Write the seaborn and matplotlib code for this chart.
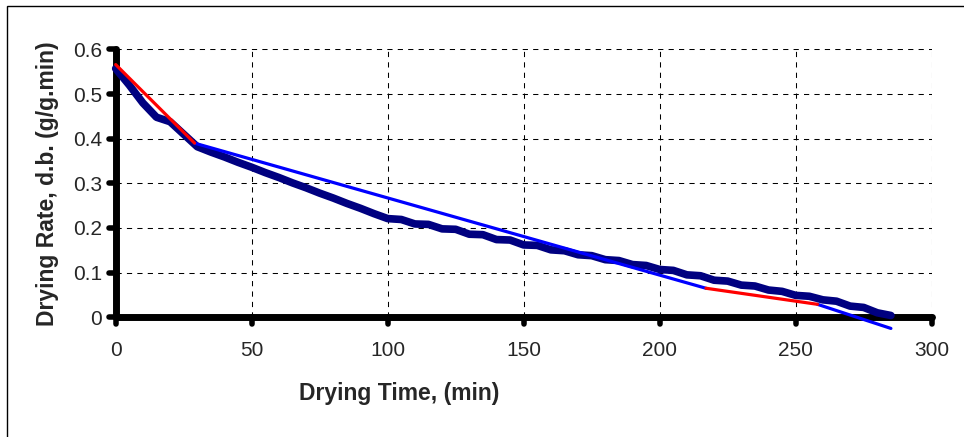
import numpy as np
import pandas as pd
import matplotlib
matplotlib.use('Agg')
import matplotlib.pyplot as plt
import seaborn as sns
from matplotlib.markers import MarkerStyle, TICKLEFT, TICKDOWN
from matplotlib.patches import Rectangle

# measured drying rate (every 5 min)
time_min = [0, 5, 10, 15, 20, 25, 30, 35, 40, 45, 50, 55, 60, 65, 70, 75, 80, 85, 90, 95,
            100, 105, 110, 115, 120, 125, 130, 135, 140, 145, 150, 155, 160, 165, 170, 175,
            180, 185, 190, 195, 200, 205, 210, 215, 220, 225, 230, 235, 240, 245, 250, 255,
            260, 265, 270, 275, 280, 285]
rate = [0.557, 0.520, 0.480, 0.448, 0.438, 0.410, 0.382, 0.370, 0.359, 0.347, 0.336, 0.324,
        0.313, 0.301, 0.290, 0.278, 0.267, 0.255, 0.244, 0.232,
        0.221, 0.219, 0.209, 0.208, 0.198, 0.197, 0.186, 0.185, 0.174, 0.173, 0.162, 0.161,
        0.151, 0.149, 0.140, 0.138, 0.129, 0.127, 0.118, 0.116, 0.107, 0.105, 0.095, 0.093,
        0.083, 0.081, 0.072, 0.070, 0.061, 0.058, 0.049, 0.047, 0.039, 0.036, 0.025, 0.022,
        0.010, 0.004]

# fitted straight segments
red_fits = [([0, 29], [0.566, 0.390]), ([217, 258], [0.065, 0.029])]
blue_fits = [([29, 217], [0.390, 0.065]), ([258, 285], [0.029, -0.025])]

x_ticks = [0, 50, 100, 150, 200, 250, 300]
y_ticks = [0, 0.1, 0.2, 0.3, 0.4, 0.5, 0.6]
y_tick_labels = ['0', '0.1', '0.2', '0.3', '0.4', '0.5', '0.6']

sns.set_style('white')
plt.rcParams['font.family'] = ['Liberation Sans', 'DejaVu Sans']

fig = plt.figure(figsize=(9.64, 4.37), dpi=100)
ax = fig.add_axes([0.12, 0.274, 0.8465, 0.613])

df = pd.DataFrame({'t': time_min, 'r': rate})
sns.lineplot(data=df, x='t', y='r', ax=ax, color='#000080', linewidth=5.5,
             solid_capstyle='round', solid_joinstyle='round', zorder=4, clip_on=False)
for xs, ys in blue_fits:
    sns.lineplot(x=xs, y=ys, ax=ax, color='#0000FF', linewidth=2.3, zorder=5, clip_on=False)
for xs, ys in red_fits:
    sns.lineplot(x=xs, y=ys, ax=ax, color='#FF0000', linewidth=2.3, zorder=6, clip_on=False)

ax.set_xlim(0, 300)
ax.set_ylim(0, 0.6)
ax.set_xticks(x_ticks)
ax.set_yticks(y_ticks)
ax.set_yticklabels(y_tick_labels)
ax.grid(True, color='black', linestyle=(0, (5, 5)), linewidth=0.75)
for side in ['top', 'right']:
    ax.spines[side].set_visible(False)
for side in ['left', 'bottom']:
    ax.spines[side].set_linewidth(5)
    ax.spines[side].set_color('black')
    ax.spines[side].set_capstyle('round')
    ax.spines[side].set_zorder(3)

ax.tick_params(axis='both', direction='out', length=5, width=4, color='black',
               labelsize=15, left=True, bottom=True)
ax.tick_params(axis='x', pad=12)
ax.tick_params(axis='y', pad=5)
for t in ax.yaxis.get_major_ticks():
    t.tick1line.set_marker(MarkerStyle(TICKLEFT, capstyle='round'))
for t in ax.xaxis.get_major_ticks():
    t.tick1line.set_marker(MarkerStyle(TICKDOWN, capstyle='round'))

ax.set_xlabel('Drying Time, (min)', fontsize=16.5, fontweight='bold')
ax.set_ylabel('Drying Rate, d.b. (g/g.min)', fontsize=16.5, fontweight='bold')
ax.xaxis.set_label_coords((399 - 116) / 816, -0.243)
ax.yaxis.set_label_coords(-0.07, 0.5)

fig.patches.append(Rectangle((6.5 / 964, -0.1), 1.2, 1.1 - 6.5 / 437, transform=fig.transFigure,
                             fill=False, edgecolor='black', linewidth=1))

fig.savefig('out.png', dpi=100)
plt.close()
